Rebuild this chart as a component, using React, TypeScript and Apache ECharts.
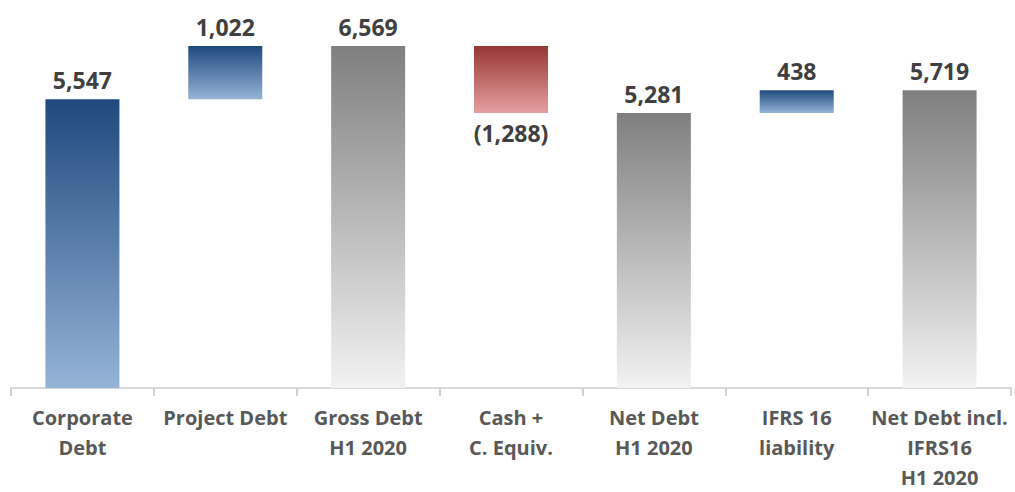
import React, { useEffect, useRef } from "react";
import * as echarts from "echarts";

const categories = [
  "Corporate\nDebt",
  "Project Debt",
  "Gross Debt\nH1 2020",
  "Cash +\nC. Equiv.",
  "Net Debt\nH1 2020",
  "IFRS 16\nliability",
  "Net Debt incl.\nIFRS16\nH1 2020",
];
// signed amounts shown on the chart
const values = [5547, 1022, 6569, -1288, 5281, 438, 5719];
// invisible offset under each floating bar
const offsets = [0, 5547, 0, 5281, 0, 5281, 0];
// bar kind: total (grey), corporate (solid blue), increase (blue), decrease (red)
const kinds = ["corp", "up", "total", "down", "total", "up", "total"];

const grad = (top: string, bottom: string) =>
  new echarts.graphic.LinearGradient(0, 0, 0, 1, [
    { offset: 0, color: top },
    { offset: 1, color: bottom },
  ]);

const colorFor = (k: string) => {
  if (k === "corp") return grad("#1f497d", "#95b3d7");
  if (k === "up") return grad("#1f497d", "#95b3d7");
  if (k === "down") return grad("#953735", "#e6a0a0");
  return grad("#7f7f7f", "#f2f2f2");
};

const fmt = (v: number) => {
  const s = Math.abs(v).toLocaleString("en-US");
  return v < 0 ? `(${s})` : s;
};

export default function App() {
  const ref = useRef<HTMLDivElement>(null);
  useEffect(() => {
    document.body.style.margin = "0";
    const chart = echarts.init(ref.current!, null, { renderer: "svg" });
    const font = "'Open Sans', 'Noto Sans', sans-serif";
    chart.setOption({
      animation: false,
      grid: { left: 11, right: 4, top: 46, bottom: 104, containLabel: false },
      xAxis: {
        type: "category",
        data: categories,
        axisLine: { lineStyle: { color: "#d9d9d9", width: 2 } },
        axisTick: { show: true, length: 8, lineStyle: { color: "#d0d0d0", width: 2 } },
        axisLabel: {
          interval: 0,
          fontFamily: font,
          fontWeight: "bold",
          fontSize: 20,
          lineHeight: 30,
          color: "#595959",
          margin: 14,
        },
      },
      yAxis: { type: "value", min: 0, max: 6569, show: false },
      series: [
        {
          type: "bar",
          stack: "w",
          barWidth: 74,
          itemStyle: { color: "transparent" },
          emphasis: { disabled: true },
          data: offsets,
        },
        {
          type: "bar",
          stack: "w",
          barWidth: 74,
          data: values.map((v, i) => ({
            value: Math.abs(v),
            itemStyle: { color: colorFor(kinds[i]) },
            label: {
              show: true,
              position: v < 0 ? "bottom" : "top",
              distance: 8,
              formatter: () => fmt(v),
              fontFamily: font,
              fontWeight: "bold",
              fontSize: 23,
              color: "#404040",
            },
          })),
        },
      ],
    });
    return () => chart.dispose();
  }, []);
  return <div ref={ref} style={{ width: 1015, height: 492 }} />;
}
